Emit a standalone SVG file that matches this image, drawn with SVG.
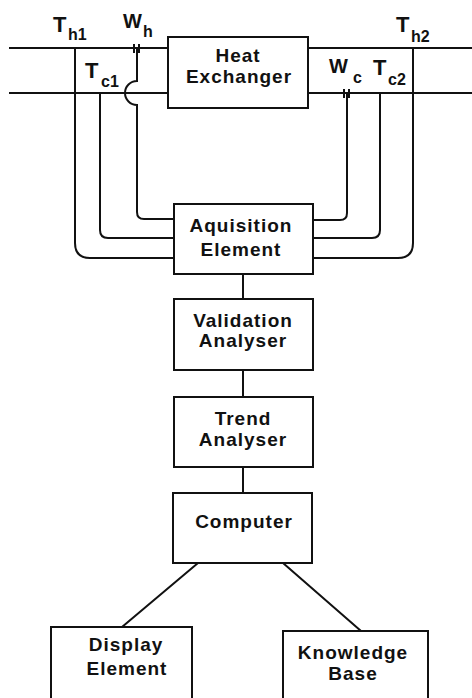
<svg xmlns="http://www.w3.org/2000/svg" width="472" height="698" viewBox="0 0 472 698">
<style>
.box{fill:#fff;stroke:#111;stroke-width:2}
.ln{fill:none;stroke:#111;stroke-width:2}
.t{font-family:"Liberation Sans",Arial,sans-serif;font-weight:bold;font-size:19px;letter-spacing:1px;fill:#111;text-anchor:middle}
.lb{font-family:"Liberation Sans",Arial,sans-serif;font-weight:bold;fill:#111}
.big{font-size:22px}
.w{font-size:20px}
.sub{font-size:16px}
</style>
<rect width="472" height="698" fill="#fff"/>
<g id="connectors">
<path class="ln" d="M9 48H168M308 48H472M9 93H168M308 93H472"/>
<path class="ln" d="M75 48V243Q75 258 90 258H174"/>
<path class="ln" d="M100 93V230Q100 238 108 238H174"/>
<path class="ln" d="M137 48V81A12 12 0 0 0 137 105V212Q137 219 144 219H174"/>
<path class="ln" d="M413 48V243Q413 258 398 258H313"/>
<path class="ln" d="M380 93V230Q380 238 372 238H313"/>
<path class="ln" d="M347 93V213Q347 220 340 220H313"/>
<path class="ln" d="M134 44V53M139 44V53M344 89V98M349 89V98" stroke-width="1.5"/>
<path class="ln" d="M243 274V299M243 370V397M243 467V493M198 563L122 627M283 563L361 631"/>
</g>
<g id="labels">
<text class="lb big" x="53" y="32">T</text><text class="lb sub" x="68" y="40">h1</text>
<text class="lb w" x="123" y="28">W</text><text class="lb sub" x="143" y="37">h</text>
<text class="lb big" x="85" y="78">T</text><text class="lb sub" x="101" y="87">c1</text>
<text class="lb w" x="329" y="73">W</text><text class="lb sub" x="353" y="83">c</text>
<text class="lb big" x="373" y="75">T</text><text class="lb sub" x="388" y="85">c2</text>
<text class="lb big" x="396" y="32">T</text><text class="lb sub" x="411" y="42">h2</text>
</g>
<g id="heat-exchanger">
<rect class="box" x="168" y="37" width="140" height="71"/>
<text class="t" x="238" y="62">Heat</text>
<text class="t" x="239" y="83">Exchanger</text>
</g>
<g id="aquisition-element">
<rect class="box" x="174" y="204" width="139" height="70"/>
<text class="t" x="241" y="232">Aquisition</text>
<text class="t" x="241" y="256">Element</text>
</g>
<g id="validation-analyser">
<rect class="box" x="174" y="299" width="139" height="71"/>
<text class="t" x="243" y="327">Validation</text>
<text class="t" x="243" y="347">Analyser</text>
</g>
<g id="trend-analyser">
<rect class="box" x="174" y="397" width="139" height="70"/>
<text class="t" x="243" y="425">Trend</text>
<text class="t" x="243" y="446">Analyser</text>
</g>
<g id="computer">
<rect class="box" x="173" y="493" width="139" height="70"/>
<text class="t" x="244" y="528">Computer</text>
</g>
<g id="display-element">
<rect class="box" x="51" y="627" width="141" height="80"/>
<text class="t" x="126" y="651">Display</text>
<text class="t" x="127" y="675">Element</text>
</g>
<g id="knowledge-base">
<rect class="box" x="283" y="631" width="145" height="80"/>
<text class="t" x="353" y="659">Knowledge</text>
<text class="t" x="353" y="680">Base</text>
</g>
</svg>
